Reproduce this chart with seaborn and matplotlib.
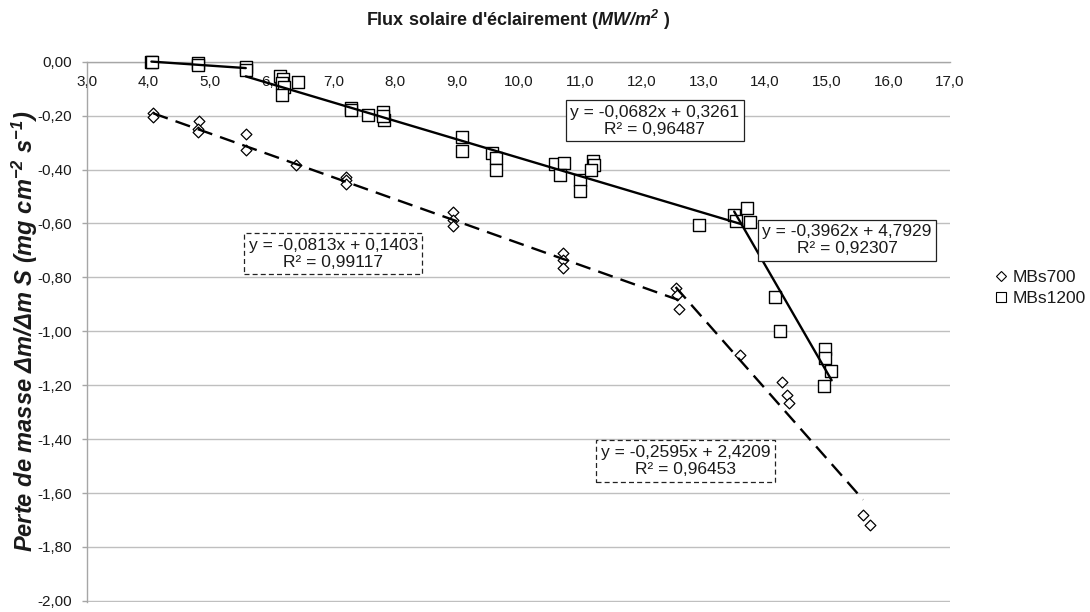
import numpy as np
import pandas as pd
import matplotlib
matplotlib.use("Agg")
import matplotlib.pyplot as plt
import seaborn as sns
from matplotlib.lines import Line2D
from matplotlib.ticker import FixedLocator, FuncFormatter

# ---- measurements -------------------------------------------------------
series_names = ["MBs700", "MBs1200"]

mbs700_flux = [4.08, 4.08, 4.82, 4.81, 4.81, 5.58, 5.58, 6.39, 7.21, 7.21,
               7.21, 8.94, 8.94, 8.94, 10.72, 10.72, 10.72, 12.55, 12.58,
               12.60, 13.59, 14.27, 14.36, 14.39, 15.59, 15.70]
mbs700_loss = [-0.192, -0.204, -0.219, -0.250, -0.259, -0.267, -0.329,
               -0.385, -0.426, -0.440, -0.452, -0.559, -0.586, -0.611,
               -0.710, -0.734, -0.765, -0.840, -0.864, -0.917, -1.089,
               -1.189, -1.237, -1.265, -1.683, -1.719]

mbs1200_flux = [4.05, 4.06, 4.81, 4.81, 5.58, 5.58, 6.14, 6.18, 6.17, 6.20,
                6.17, 6.43, 7.28, 7.29, 7.56, 7.81, 7.82, 7.80, 9.09, 9.09,
                9.57, 9.64, 9.63, 10.60, 10.74, 10.67, 11.00, 11.00, 11.21,
                11.22, 11.18, 12.93, 13.50, 13.53, 13.71, 13.76, 14.16,
                14.25, 14.98, 14.98, 15.07, 14.95]
mbs1200_loss = [0.000, -0.003, -0.004, -0.012, -0.021, -0.030, -0.053,
                -0.065, -0.080, -0.095, -0.123, -0.074, -0.172, -0.180,
                -0.197, -0.185, -0.216, -0.200, -0.280, -0.330, -0.340,
                -0.358, -0.400, -0.379, -0.376, -0.420, -0.440, -0.478,
                -0.370, -0.383, -0.400, -0.606, -0.568, -0.592, -0.543,
                -0.596, -0.874, -1.000, -1.065, -1.098, -1.148, -1.204]

# linear trends fitted on each regime
trend_series = ["MBs1200", "MBs1200", "MBs700", "MBs700"]
trend_slope = [-0.0682, -0.3962, -0.0813, -0.2595]
trend_intercept = [0.3261, 4.7929, 0.1403, 2.4209]
trend_r2 = [0.96487, 0.92307, 0.99117, 0.96453]
trend_x_start = [5.58, 13.50, 4.08, 12.55]
trend_x_end = [13.63, 15.08, 12.60, 15.59]

# first (low flux) regime of MBs1200, no equation shown
low_flux_limit = 6.0

x_ticks = [3.0, 4.0, 5.0, 6.0, 7.0, 8.0, 9.0, 10.0, 11.0, 12.0, 13.0, 14.0,
           15.0, 16.0, 17.0]
y_ticks = [0.0, -0.2, -0.4, -0.6, -0.8, -1.0, -1.2, -1.4, -1.6, -1.8, -2.0]

# ---- style --------------------------------------------------------------
sns.set_theme(style="white")
plt.rcParams["font.family"] = ["Liberation Sans", "DejaVu Sans"]
plt.rcParams["mathtext.fontset"] = "custom"
plt.rcParams["mathtext.rm"] = "Liberation Sans"
plt.rcParams["mathtext.it"] = "Liberation Sans:italic"
plt.rcParams["mathtext.bf"] = "Liberation Sans:bold"
plt.rcParams["mathtext.bfit"] = "Liberation Sans:italic:bold"

GRID = "#BFBFBF"
AXIS = "#A6A6A6"
TXT = "#1A1A1A"

fig = plt.figure(figsize=(10.9, 6.12), dpi=100)
ax = fig.add_axes([0.0795, 0.0168, 0.7921, 0.8824])


def comma(fmt):
    def f(v, _pos=None):
        s = format(v, fmt).replace(".", ",")
        return "0" + s[2:] if s.startswith("-0") and float(v) == 0 else s
    return f


# ---- data points --------------------------------------------------------
df700 = pd.DataFrame({"flux": mbs700_flux, "perte": mbs700_loss})
df1200 = pd.DataFrame({"flux": mbs1200_flux, "perte": mbs1200_loss})

sns.scatterplot(data=df700, x="flux", y="perte", marker="D", s=30,
                color="white", edgecolor="black", linewidth=0.9,
                ax=ax, zorder=3, legend=False, clip_on=False)
sns.scatterplot(data=df1200, x="flux", y="perte", marker="s", s=80,
                color="white", edgecolor="black", linewidth=1.0,
                ax=ax, zorder=3, legend=False, clip_on=False)

# ---- trend lines --------------------------------------------------------
line_style = {"MBs1200": "-", "MBs700": (0, (6.5, 3.5))}

low = df1200[df1200["flux"] < low_flux_limit]
k0, b0 = np.polyfit(low["flux"], low["perte"], 1)
xs0 = np.array([low["flux"].min(), low["flux"].max()])
ax.plot(xs0, k0 * xs0 + b0, color="black", lw=1.7, zorder=4, clip_on=False)

for name, k, b, x0, x1 in zip(trend_series, trend_slope, trend_intercept,
                              trend_x_start, trend_x_end):
    xs = np.array([x0, x1])
    ax.plot(xs, k * xs + b, color="black", lw=1.7,
            linestyle=line_style[name], zorder=4)

# equations with their coefficient of determination
eq_anchor = [(12.21, -0.2196), (15.33, -0.662), (7.0, -0.713), (12.71, -1.481)]
for name, k, b, r2, (tx, ty) in zip(trend_series, trend_slope,
                                     trend_intercept, trend_r2, eq_anchor):
    label = (f"y = {k:.4f}x + {b:.4f}".replace(".", ",") + "\n"
             + f"R² = {r2:.5f}".replace(".", ","))
    ax.text(tx, ty, label, ha="center", va="center", fontsize=12.5,
            color=TXT, zorder=6, linespacing=1.2,
            bbox=dict(boxstyle="square,pad=0.25", fc="white", ec="#222222",
                      lw=0.9,
                      ls="-" if name == "MBs1200" else (0, (4, 2.5))))

# ---- axes ---------------------------------------------------------------
ax.set_xlim(3.0, 17.0)
ax.set_ylim(-2.003, 0.0)
ax.xaxis.set_major_locator(FixedLocator(x_ticks))
ax.yaxis.set_major_locator(FixedLocator(y_ticks))
ax.xaxis.set_major_formatter(FuncFormatter(comma(".1f")))
ax.yaxis.set_major_formatter(FuncFormatter(comma(".2f")))

ax.spines["top"].set_visible(False)
ax.spines["right"].set_visible(False)
ax.spines["bottom"].set_position(("data", 0.0))
for sp in ("bottom", "left"):
    ax.spines[sp].set_color(AXIS)
    ax.spines[sp].set_linewidth(1.0)
    ax.spines[sp].set_zorder(2)

ax.tick_params(axis="x", direction="in", length=3.5, width=1.0,
               color=AXIS, pad=9.5, labelsize=11, labelcolor=TXT)
ax.tick_params(axis="y", direction="out", length=3.5, width=1.0,
               color=AXIS, pad=7, labelsize=11, labelcolor=TXT, left=True)

ax.yaxis.grid(True, color=GRID, lw=1.0, zorder=0)
ax.xaxis.grid(False)
ax.set_axisbelow(True)
ax.set_xlabel("")

ax.set_ylabel(r"$\mathbfit{Perte\ de\ masse\ Δm/Δm\ S\ (mg\ cm^{-2}\ s^{-1})}$",
              fontsize=17, color=TXT, va="center")
ax.yaxis.set_label_coords(-0.0715, 0.5)

ax.text(0.5, 1.0 + 42 / 540, r"Flux solaire d'éclairement ($\mathbfit{MW/m^2}$ )",
        transform=ax.transAxes, ha="center", va="center", fontsize=13,
        fontweight="bold", color=TXT)

# ---- legend -------------------------------------------------------------
handles = [
    Line2D([], [], ls="none", marker="D", ms=5.2, mfc="white",
           mec="black", mew=0.8),
    Line2D([], [], ls="none", marker="s", ms=6.8, mfc="white",
           mec="black", mew=0.8),
]
fig.legend(handles, series_names, loc="upper left",
           bbox_to_anchor=(995 / 1090, 1 - 270 / 612),
           bbox_transform=fig.transFigure, frameon=False, fontsize=12.5,
           handlelength=0.7, handletextpad=0.3, labelspacing=0.35,
           borderpad=0.0, borderaxespad=0.0, labelcolor=TXT)

fig.savefig("out.png", dpi=100)
